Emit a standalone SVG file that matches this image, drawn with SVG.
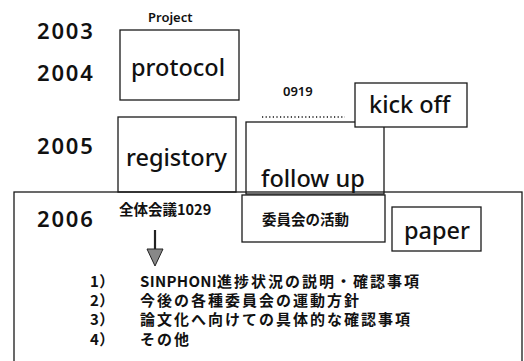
<svg xmlns="http://www.w3.org/2000/svg" width="524" height="361" viewBox="0 0 524 361">
<style>
.box{fill:none;stroke:#1a1a1a;stroke-width:1.3}
.wbox{fill:#fff;stroke:#1a1a1a;stroke-width:1.3}
.yr{font-family:"Noto Sans","DejaVu Sans",sans-serif;font-size:22px;font-weight:600;fill:#111;letter-spacing:1.8px}
.lbl{font-family:"Noto Sans","DejaVu Sans",sans-serif;font-size:23.5px;font-weight:500;fill:#111}
.sm{font-family:"Noto Sans","DejaVu Sans",sans-serif;font-size:13px;font-weight:600;fill:#111}
.jp{font-family:"Noto Sans CJK JP","Noto Sans",sans-serif;font-size:14.5px;font-weight:700;fill:#111}
.li{font-family:"Noto Sans CJK JP","Noto Sans",sans-serif;font-size:15px;font-weight:700;fill:#111;letter-spacing:2px}
.lat{letter-spacing:0.3px}
</style>
<rect x="0" y="0" width="524" height="361" fill="#fff"/>
<g id="years">
<text class="yr" x="37" y="39">2003</text>
<text class="yr" x="37" y="81">2004</text>
<text class="yr" x="37" y="154">2005</text>
</g>
<g id="project">
<text class="sm" x="148" y="22">Project</text>
</g>
<g id="protocol">
<rect class="box" x="120" y="30" width="119" height="70"/>
<text class="lbl" x="131" y="76">protocol</text>
</g>
<g id="registory">
<rect class="box" x="118" y="117" width="118" height="75"/>
<text class="lbl" x="126" y="166">registory</text>
</g>
<g id="followup">
<rect class="box" x="246" y="122" width="138" height="72"/>
<text class="lbl" x="261" y="187">follow up</text>
</g>
<g id="kickoff">
<rect class="wbox" x="355" y="83" width="112" height="44"/>
<text class="lbl" x="369" y="113">kick off</text>
</g>
<g id="date0919">
<text class="sm" x="283" y="96">0919</text>
</g>
<g id="meeting2006">
<rect class="box" x="14" y="192" width="508" height="175"/>
<text class="yr" x="37" y="227">2006</text>
<text class="jp" x="119" y="215">全体会議1029</text>
<text class="li" x="90" y="287"><tspan class="lat">1</tspan>）</text>
<text class="li" x="140" y="287"><tspan class="lat">SINPHONI</tspan>進捗状況の説明・確認事項</text>
<text class="li" x="90" y="306"><tspan class="lat">2</tspan>）</text>
<text class="li" x="140" y="306">今後の各種委員会の運動方針</text>
<text class="li" x="90" y="325"><tspan class="lat">3</tspan>）</text>
<text class="li" x="140" y="325">論文化へ向けての具体的な確認事項</text>
<text class="li" x="90" y="345"><tspan class="lat">4</tspan>）</text>
<text class="li" x="140" y="345">その他</text>
</g>
<g id="iinkai">
<rect class="box" x="242" y="195" width="143" height="47"/>
<text class="jp" x="262" y="225">委員会の活動</text>
</g>
<g id="paper">
<rect class="box" x="392" y="207" width="89" height="44"/>
<text class="lbl" x="404" y="239">paper</text>
</g>
<g id="connectors">
<line x1="262" y1="117" x2="345" y2="117" stroke="#111" stroke-width="1.5" stroke-dasharray="1.2,2.4"/>
<line x1="155" y1="230" x2="155" y2="251" stroke="#222" stroke-width="2.2"/>
<polygon points="147,249 163,249 155,266" fill="#888" stroke="#222" stroke-width="1"/>
</g>
</svg>
